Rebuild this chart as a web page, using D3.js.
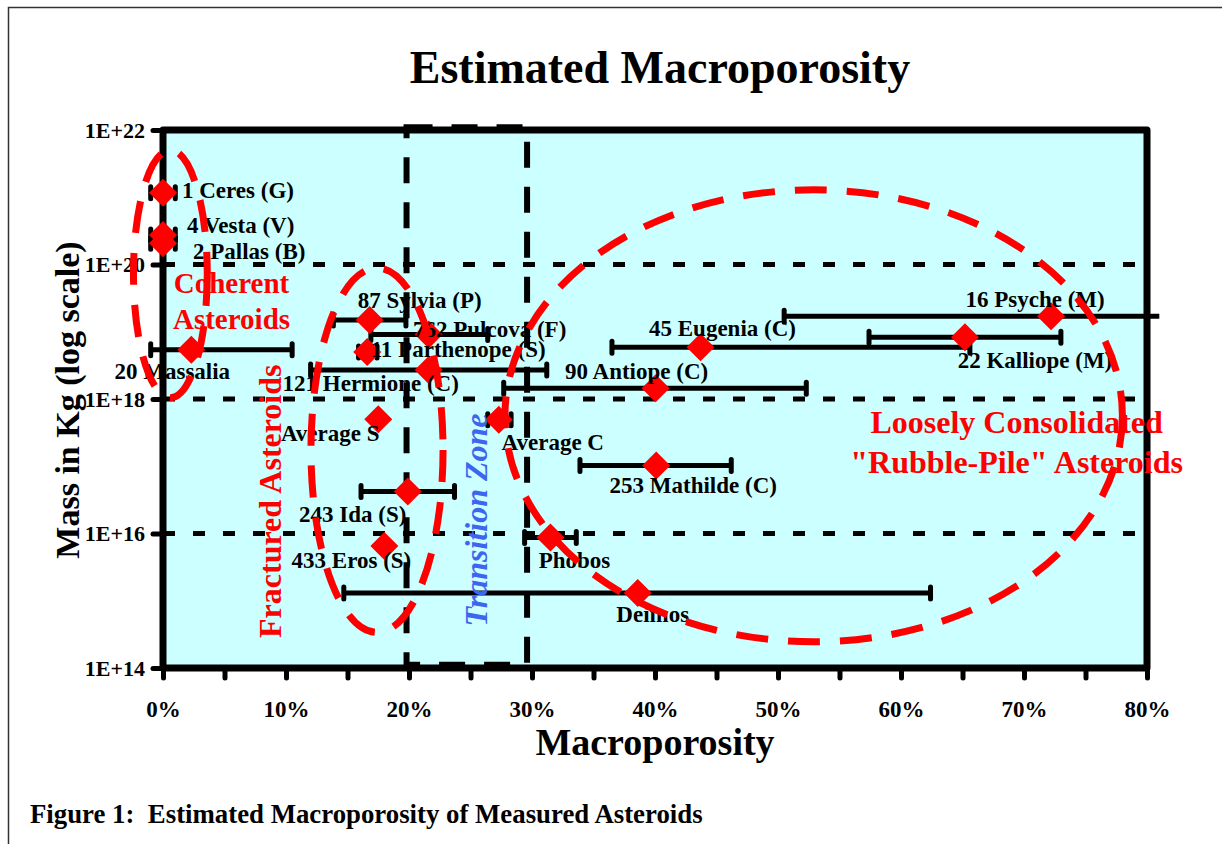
<!DOCTYPE html>
<html>
<head>
<meta charset="utf-8">
<script src="https://cdn.jsdelivr.net/npm/d3@7"></script>
<style>
  html, body { margin: 0; padding: 0; background: #fff; }
  svg { display: block; font-family: "Liberation Serif", "Times New Roman", serif; }
</style>
</head>
<body>
<svg id="chart" width="1222" height="844"></svg>
<script>
// ---- data (porosity in %, mass in kg) ----
const asteroidNames = ["1 Ceres (G)", "4 Vesta (V)", "2 Pallas (B)", "20 Massalia", "87 Sylvia (P)",
  "762 Pulcova (F)", "11 Parthenope (S)", "121 Hermione (C)", "45 Eugenia (C)", "90 Antiope (C)",
  "16 Psyche (M)", "22 Kalliope (M)", "Average S", "Average C", "253 Mathilde (C)",
  "243 Ida (S)", "433 Eros (S)", "Phobos", "Deimos"];
const porosity     = [0, 0, 0, 2.3, 16.8, 21.6, 16.6, 21.6, 43.7, 40.05, 72.2, 65.2, 17.5, 27.3, 40.1, 19.9, 18.0, 31.5, 38.6];
const massKg       = [1.17e21, 2.75e20, 2.07e20, 5.4e18, 1.5e19, 9.1e18, 5.0e18, 2.7e18, 5.9e18, 1.45e18,
                      1.7e19, 8.3e18, 5.0e17, 4.9e17, 1.03e17, 4.2e16, 6.5e15, 8.7e15, 1.3e15];
const porosityLow  = [-1, -1, -1, -1, 13.85, 16.9, 15.9, 12.0, 36.5, 27.7, 50.5, 57.4, null, 26.4, 33.9, 16.1, null, 29.4, 14.7];
const porosityHigh = [1, 1, 1, 10.5, 19.75, 26.4, 17.4, 31.2, 65.6, 52.3, 81.0, 73.0, null, 28.3, 46.2, 23.7, null, 33.6, 62.4];

const xTicks = d3.range(0, 81, 5);
const xTickLabels = xTicks.map(d => d % 10 === 0 ? d + "%" : "");
const yTicks = [1e14, 1e16, 1e18, 1e20, 1e22];
const yTickLabels = ["1E+14", "1E+16", "1E+18", "1E+20", "1E+22"];
const gridMasses = [1e16, 1e18, 1e20];

// transition zone (porosity %, mass range)
const transitionZone = { x0: 19.8, x1: 29.6, m0: 1.12e14, m1: 1.1e22 };

// grouping ellipses: centre (porosity %, log10 mass), radii (% , decades)
const groupEllipses = [
  { cx: 0.6,  cy: 19.86, rx: 3.0,  ry: 1.84 },
  { cx: 17.4, cy: 17.24, rx: 5.37, ry: 2.71 },
  { cx: 52.9, cy: 17.75, rx: 25.1, ry: 3.36 }
];

// ---- layout ----
const labelLayout = {
  "1 Ceres (G)": ["start", 19, 5], "4 Vesta (V)": ["start", 24, -2], "2 Pallas (B)": ["start", 30, 16],
  "20 Massalia": ["middle", -19, 29], "87 Sylvia (P)": ["middle", 50, -12], "762 Pulcova (F)": ["middle", 61, 2],
  "11 Parthenope (S)": ["middle", 91, 5], "121 Hermione (C)": ["middle", -58, 21], "45 Eugenia (C)": ["middle", 22, -11],
  "90 Antiope (C)": ["middle", -19, -9], "16 Psyche (M)": ["middle", -16, -9], "22 Kalliope (M)": ["middle", 70, 31],
  "Average S": ["middle", -48, 22], "Average C": ["middle", 54, 30], "253 Mathilde (C)": ["middle", 37, 28],
  "243 Ida (S)": ["middle", -55, 30], "433 Eros (S)": ["middle", -33, 22], "Phobos": ["middle", 24, 30],
  "Deimos": ["middle", 15, 29]
};

const svg = d3.select("#chart");
const serif = '"Liberation Serif", "Times New Roman", serif';

const x = d3.scaleLinear().domain([0, 80]).range([163, 1147]);
const y = d3.scaleLog().domain([1e14, 1e22]).range([668, 130]);
const ly = v => y(Math.pow(10, v));

// outer frame
svg.append("rect")
  .attr("x", 8.5).attr("y", 7.5).attr("width", 1300).attr("height", 900)
  .attr("fill", "none").attr("stroke", "#333").attr("stroke-width", 1.5);

// title
svg.append("text")
  .attr("x", 660).attr("y", 83)
  .attr("text-anchor", "middle")
  .attr("font-size", 46).attr("font-weight", "bold")
  .text("Estimated Macroporosity");

// plot background
svg.append("rect")
  .attr("x", x(0)).attr("y", y(1e22))
  .attr("width", x(80) - x(0)).attr("height", y(1e14) - y(1e22))
  .attr("fill", "#ccffff");

// horizontal dashed gridlines
svg.append("g").selectAll("line")
  .data(gridMasses)
  .join("line")
  .attr("x1", x(0)).attr("x2", x(80))
  .attr("y1", d => y(d)).attr("y2", d => y(d))
  .attr("stroke", "#000").attr("stroke-width", 5)
  .attr("stroke-dasharray", "12,18");

// transition zone box
svg.append("rect")
  .attr("x", x(transitionZone.x0)).attr("y", y(transitionZone.m1))
  .attr("width", x(transitionZone.x1) - x(transitionZone.x0))
  .attr("height", y(transitionZone.m0) - y(transitionZone.m1))
  .attr("fill", "none").attr("stroke", "#000").attr("stroke-width", 6)
  .attr("stroke-dasharray", "26,19");

// plot border
svg.append("rect")
  .attr("x", x(0)).attr("y", y(1e22))
  .attr("width", x(80) - x(0)).attr("height", y(1e14) - y(1e22))
  .attr("fill", "none").attr("stroke", "#000").attr("stroke-width", 7)
  .attr("stroke-linejoin", "round");

// axes
function styleAxis(g) {
  g.select(".domain").remove();
  g.attr("font-family", serif).attr("font-size", 22).attr("font-weight", "bold");
  g.selectAll(".tick line").attr("stroke", "#000").attr("stroke-width", 5).attr("stroke-linecap", "round");
  g.selectAll(".tick text").attr("fill", "#000");
}

svg.append("g")
  .attr("transform", `translate(0,${y(1e14)})`)
  .call(d3.axisBottom(x).tickValues(xTicks).tickFormat((d, i) => xTickLabels[i]).tickSize(10).tickPadding(23))
  .call(styleAxis)
  .attr("font-size", 23);

svg.append("g")
  .attr("transform", `translate(${x(0)},0)`)
  .call(d3.axisLeft(y).tickValues(yTicks).tickFormat((d, i) => yTickLabels[i]).tickSize(10).tickPadding(8))
  .call(styleAxis);

// axis titles
svg.append("text")
  .attr("x", 655).attr("y", 755)
  .attr("text-anchor", "middle")
  .attr("font-size", 38).attr("font-weight", "bold")
  .text("Macroporosity");

svg.append("text")
  .attr("transform", "translate(79,400) rotate(-90)")
  .attr("text-anchor", "middle")
  .attr("font-size", 34).attr("font-weight", "bold")
  .text("Mass in Kg (log scale)");

// rows
const rows = asteroidNames.map((name, i) => ({
  name, p: porosity[i], m: massKg[i], lo: porosityLow[i], hi: porosityHigh[i]
}));

// error bars
const bars = svg.append("g");
rows.filter(d => d.lo !== null).forEach(d => {
  const yy = y(d.m);
  bars.append("line")
    .attr("x1", x(d.lo)).attr("x2", x(d.hi))
    .attr("y1", yy).attr("y2", yy)
    .attr("stroke", "#000").attr("stroke-width", 5);
  [d.lo, d.hi].filter(v => v <= 80).forEach(v => {
    bars.append("line")
      .attr("x1", x(v)).attr("x2", x(v))
      .attr("y1", yy - 6).attr("y2", yy + 6)
      .attr("stroke", "#000").attr("stroke-width", 5)
      .attr("stroke-linecap", "round");
  });
});

// diamonds
svg.append("g").selectAll("path")
  .data(rows)
  .join("path")
  .attr("d", d3.symbol(d3.symbolSquare, 392))
  .attr("transform", d => `translate(${x(d.p)},${y(d.m)}) rotate(45)`)
  .attr("fill", "#ff0000");

// point labels
svg.append("g").selectAll("text")
  .data(rows)
  .join("text")
  .attr("x", d => x(d.p) + labelLayout[d.name][1])
  .attr("y", d => y(d.m) + labelLayout[d.name][2])
  .attr("text-anchor", d => labelLayout[d.name][0])
  .attr("font-size", 23).attr("font-weight", "bold")
  .attr("fill", "#000")
  .text(d => d.name);

// group ellipses
svg.append("g").selectAll("ellipse")
  .data(groupEllipses)
  .join("ellipse")
  .attr("cx", d => x(d.cx))
  .attr("cy", d => ly(d.cy))
  .attr("rx", d => x(d.cx + d.rx) - x(d.cx))
  .attr("ry", d => ly(d.cy - d.ry) - ly(d.cy))
  .attr("fill", "none")
  .attr("stroke", "#ff0000").attr("stroke-width", 7)
  .attr("stroke-dasharray", "32,20");

// group annotations
const redNotes = [
  { text: "Coherent", p: 5.57, lm: 19.58, size: 29 },
  { text: "Asteroids", p: 5.57, lm: 19.04, size: 29 },
  { text: "Loosely Consolidated", p: 69.4, lm: 17.50, size: 32 },
  { text: "\"Rubble-Pile\" Asteroids", p: 69.4, lm: 16.90, size: 32 }
];
svg.append("g").selectAll("text")
  .data(redNotes)
  .join("text")
  .attr("x", d => x(d.p)).attr("y", d => ly(d.lm))
  .attr("text-anchor", "middle")
  .attr("font-size", d => d.size).attr("font-weight", "bold")
  .attr("fill", "#ff0000")
  .text(d => d.text);

svg.append("text")
  .attr("transform", `translate(${x(9.63)},${ly(16.48)}) rotate(-90)`)
  .attr("text-anchor", "middle")
  .attr("font-size", 32).attr("font-weight", "bold")
  .attr("fill", "#ff0000")
  .text("Fractured Asteroids");

svg.append("text")
  .attr("transform", `translate(${x(26.34)},${ly(16.2)}) rotate(-90)`)
  .attr("text-anchor", "middle")
  .attr("font-size", 32).attr("font-style", "italic").attr("font-weight", "bold")
  .attr("fill", "#3d66f0")
  .text("Transition Zone");

// caption
svg.append("text")
  .attr("x", 30).attr("y", 823)
  .attr("font-size", 26.8).attr("font-weight", "bold")
  .style("white-space", "pre")
  .text("Figure 1:  Estimated Macroporosity of Measured Asteroids");
</script>
</body>
</html>
